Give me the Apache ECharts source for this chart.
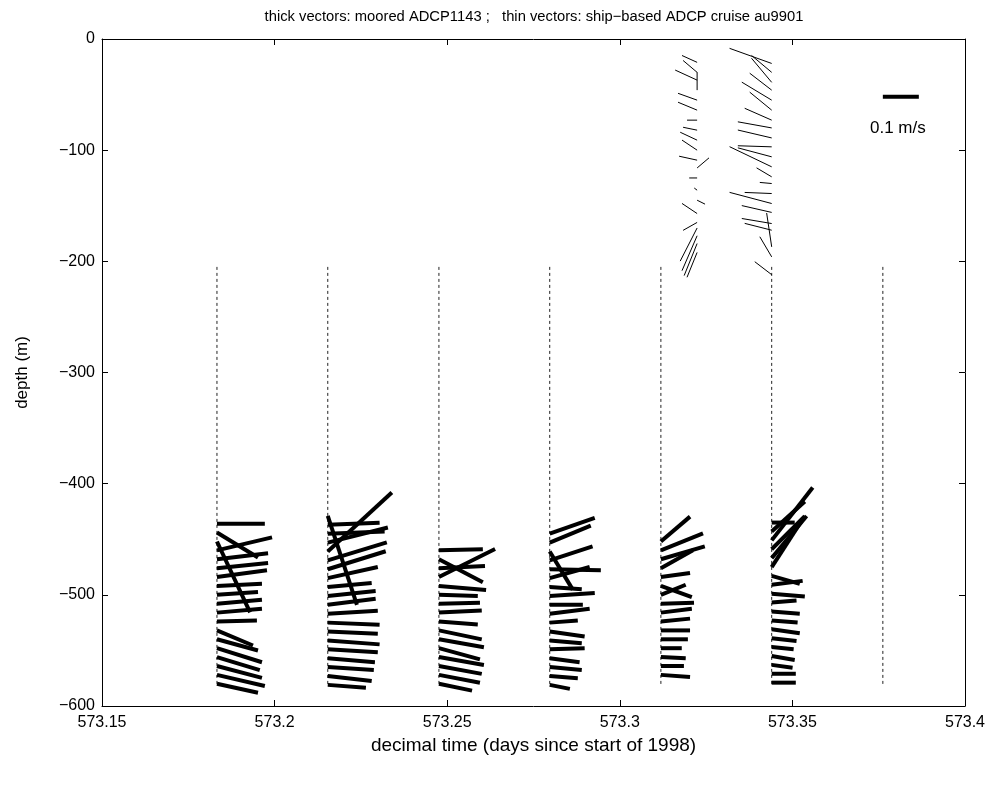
<!DOCTYPE html>
<html><head><meta charset="utf-8">
<script src="https://cdn.jsdelivr.net/npm/echarts@6/dist/echarts.min.js"></script>
<style>html,body{margin:0;padding:0;background:#fff}#c{width:1000px;height:794px}</style>
</head><body><div id="c"></div>
<script>
// ---- text ----
const titleText = 'thick vectors: moored ADCP1143 ;   thin vectors: ship\u2212based ADCP cruise au9901';
const xLabel = 'decimal time (days since start of 1998)';
const yLabel = 'depth (m)';
const scaleLabel = '0.1 m/s';
const xTickValues = [573.15, 573.2, 573.25, 573.3, 573.35, 573.4];
const yTickValues = [-600, -500, -400, -300, -200, -100, 0];

// ---- moored ADCP profiles (thick vectors); u, v in cm/s ----
const mooredTimes = [573.1833, 573.2154, 573.2476, 573.2797, 573.3119, 573.3440];
const mooredDepth = [
  [-436,-444,-452,-460,-468,-476,-484,-492,-500,-508,-516,-524,-532,-540,-548,-556,-564,-572,-580],
  [-429,-437,-445,-453,-461,-469,-477,-485,-493,-501,-509,-517,-525,-533,-541,-549,-557,-565,-573,-581],
  [-460,-468,-476,-484,-492,-500,-508,-516,-524,-532,-540,-548,-556,-564,-572,-580],
  [-445,-453,-461,-469,-477,-485,-493,-501,-509,-517,-525,-533,-541,-549,-557,-565,-573,-581],
  [-452,-460,-468,-476,-484,-492,-500,-508,-516,-524,-532,-540,-548,-556,-564,-572],
  [-435,-443,-451,-459,-467,-475,-483,-491,-499,-507,-515,-523,-531,-539,-547,-555,-563,-571,-579]
];
const mooredU = [
  [13.3,11.4,9.2,15.3,14.2,14.2,13.9,12.5,11.4,12.5,12.5,11.1,10.0,11.4,12.5,11.9,12.5,13.3,11.4],
  [8.1,14.4,15.8,16.7,17.8,16.4,16.1,13.9,12.2,13.3,13.3,13.9,14.4,13.9,14.4,13.9,13.1,12.8,12.2,10.6],
  [12.2,12.2,12.8,15.6,13.1,10.8,11.4,11.9,10.8,11.9,12.5,11.4,12.5,11.9,11.4,9.2],
  [12.5,11.4,6.4,11.9,14.2,11.1,8.9,12.5,9.2,11.1,7.8,9.7,8.9,9.7,8.3,8.9,7.8,5.6],
  [8.1,11.7,12.2,8.9,8.1,8.6,6.9,9.2,8.6,8.1,8.1,7.5,5.8,6.9,6.4,8.1],
  [6.4,9.2,11.4,9.2,9.7,8.6,7.8,8.6,9.2,6.9,7.8,7.2,7.8,6.9,6.1,6.4,5.8,6.7,6.7]
];
const mooredV = [
  [0,-6.9,-19.7,3.6,1.7,1.4,1.9,0.6,0.8,1.1,1.1,0.3,-4.2,-3.1,-3.9,-3.6,-3.3,-3.1,-2.5],
  [-24.7,0.6,0.6,4.2,16.4,5.0,5.0,3.1,1.1,1.4,1.7,0.8,-0.6,-0.6,-1.1,-0.8,-1.1,-0.8,-1.4,-0.8],
  [0.3,-6.4,0.6,7.8,-1.1,-0.3,0.3,0.6,-0.8,-2.5,-2.2,-3.1,-2.2,-2.2,-2.2,-1.9],
  [4.4,4.7,-10.6,3.9,-0.3,3.1,-0.6,0.8,0,1.4,0.6,-1.4,-0.8,0.3,-1.1,-0.8,-0.6,-1.1],
  [6.9,4.7,3.6,5.0,1.1,-3.1,2.8,0.3,1.1,0.8,0,0,0,-0.3,0,-0.6],
  [0,8.3,14.7,9.2,11.7,13.3,-2.2,1.1,-0.8,0.6,-0.6,-0.6,-1.1,-0.8,-0.6,-1.1,-0.8,0,0]
];

// ---- ship-based ADCP profiles (thin vectors); u, v in cm/s ----
const shipTimes = [573.3224, 573.3440];
const shipDepth = [
  [-21,-30,-37,-46,-55,-64,-73,-82,-91,-100,-109,-116,-125,-136,-145,-157,-165,-170,-177,-184,-192],
  [-22,-30,-39,-46,-55,-64,-73,-80,-89,-97,-106,-115,-124,-130,-139,-148,-156,-166,-172,-187,-196,-212]
];
const shipU = [
  [-4.2,-3.9,-6.1,0,-5.3,-5.3,-2.8,-3.9,-4.7,-4.2,-5.0,3.3,-2.2,-0.8,2.2,-4.2,-3.9,-4.7,-4.2,-3.6,-2.8],
  [-11.7,-5.6,-5.6,-6.1,-8.3,-6.1,-7.5,-9.4,-9.4,-9.4,-9.4,-11.7,-4.2,-3.3,-7.5,-11.7,-8.3,-8.3,-7.5,-1.4,-3.3,-4.7]
];
const shipV = [
  [1.9,3.3,2.8,5.0,1.9,2.2,0,0.8,2.2,2.8,1.1,2.8,0,0.6,-1.1,2.8,-2.2,-9.2,-9.7,-8.9,-6.9],
  [4.2,4.7,6.7,4.7,5.0,5.0,3.3,1.7,2.2,0.3,2.5,5.6,2.5,0.3,0.3,3.1,1.9,1.4,1.9,9.4,5.6,3.6]
];

// ---- dashed profile lines ----
const dashTimes = [573.1833, 573.2154, 573.2476, 573.2797, 573.3119, 573.3440, 573.3762];
const dashTop = -205, dashBottom = -582;

// ---- scale vector ----
const scaleTime = 573.3762, scaleDepth = -52, scaleU = 10, scaleV = 0, scaleLabelDepth = -80;

// drawing scale: pixels per cm/s (0.1 m/s = 36 px)
const PX_PER_CMS = 3.6;

const FONT = 'Liberation Sans';

function vecData(times, depth, U, V) {
  const out = [];
  times.forEach((t, i) => {
    depth[i].forEach((d, j) => out.push([t, d, U[i][j], V[i][j]]));
  });
  return out;
}

function vecRenderer(width) {
  return function (params, api) {
    const p = api.coord([api.value(0), api.value(1)]);
    const u = api.value(2), v = api.value(3);
    return {
      type: 'line',
      shape: { x1: p[0], y1: p[1], x2: p[0] + u * PX_PER_CMS, y2: p[1] - v * PX_PER_CMS },
      style: { stroke: '#000', lineWidth: width, lineCap: 'butt' }
    };
  };
}

const fmtX = v => String(parseFloat(v.toFixed(2)));
const fmtY = v => v < 0 ? '\u2212' + (-v) : String(v);

const chart = echarts.init(document.getElementById('c'), null, { renderer: 'canvas' });
const axisCommon = {
  type: 'value',
  axisLine: { show: true, onZero: false, lineStyle: { color: '#000', width: 1 } },
  axisTick: { show: true, inside: true, length: 6, lineStyle: { color: '#000' } },
  splitLine: { show: false }
};
chart.setOption({
  animation: false,
  backgroundColor: '#fff',
  title: {
    text: titleText, left: 529, top: 4, textAlign: 'center',
    textStyle: { fontFamily: FONT, fontSize: 14.75, fontWeight: 'normal', color: '#000' }
  },
  grid: { left: 102, right: 35, top: 39, bottom: 88, containLabel: false },
  xAxis: [
    Object.assign({}, axisCommon, {
      min: 573.15, max: 573.4, interval: 0.05, position: 'bottom',
      name: xLabel, nameLocation: 'middle', nameGap: 28,
      nameTextStyle: { fontFamily: FONT, fontSize: 19, color: '#000' },
      axisLabel: { formatter: fmtX, margin: 9, fontFamily: FONT, fontSize: 16, color: '#000' }
    }),
    Object.assign({}, axisCommon, {
      min: 573.15, max: 573.4, interval: 0.05, position: 'top',
      axisLabel: { show: false }
    })
  ],
  yAxis: [
    Object.assign({}, axisCommon, {
      min: -600, max: 0, interval: 100, position: 'left',
      name: yLabel, nameLocation: 'middle', nameGap: 71, nameRotate: 90,
      nameTextStyle: { fontFamily: FONT, fontSize: 17, color: '#000' },
      axisLabel: { formatter: fmtY, margin: 7, fontFamily: FONT, fontSize: 16, color: '#000' }
    }),
    Object.assign({}, axisCommon, {
      min: -600, max: 0, interval: 100, position: 'right',
      axisLabel: { show: false }
    })
  ],
  series: [
    {
      type: 'custom', name: 'profiles', clip: false,
      data: dashTimes.map(t => [t, dashTop, dashBottom]),
      encode: { x: 0, y: [1, 2] },
      renderItem: function (params, api) {
        const a = api.coord([api.value(0), api.value(1)]);
        const b = api.coord([api.value(0), api.value(2)]);
        return { type: 'line', shape: { x1: a[0], y1: a[1], x2: b[0], y2: b[1] },
          style: { stroke: '#222', lineWidth: 1, lineDash: [3, 3] } };
      }
    },
    {
      type: 'custom', name: 'moored', clip: false,
      data: vecData(mooredTimes, mooredDepth, mooredU, mooredV),
      encode: { x: 0, y: 1 },
      renderItem: vecRenderer(4)
    },
    {
      type: 'custom', name: 'ship', clip: false,
      data: vecData(shipTimes, shipDepth, shipU, shipV),
      encode: { x: 0, y: 1 },
      renderItem: vecRenderer(1)
    },
    {
      type: 'custom', name: 'scale', clip: false,
      data: [[scaleTime, scaleDepth, scaleU, scaleV]],
      encode: { x: 0, y: 1 },
      renderItem: function (params, api) {
        const p = api.coord([api.value(0), api.value(1)]);
        const q = api.coord([api.value(0), scaleLabelDepth]);
        const len = api.value(2) * PX_PER_CMS;
        return { type: 'group', children: [
          { type: 'line', shape: { x1: p[0], y1: p[1], x2: p[0] + len, y2: p[1] - api.value(3) * PX_PER_CMS },
            style: { stroke: '#000', lineWidth: 4 } },
          { type: 'text', x: p[0] + len / 2 - 3, y: q[1],
            style: { text: scaleLabel, fontFamily: FONT, fontSize: 17, fill: '#000', align: 'center', verticalAlign: 'middle' } }
        ] };
      }
    }
  ]
});
</script></body></html>
